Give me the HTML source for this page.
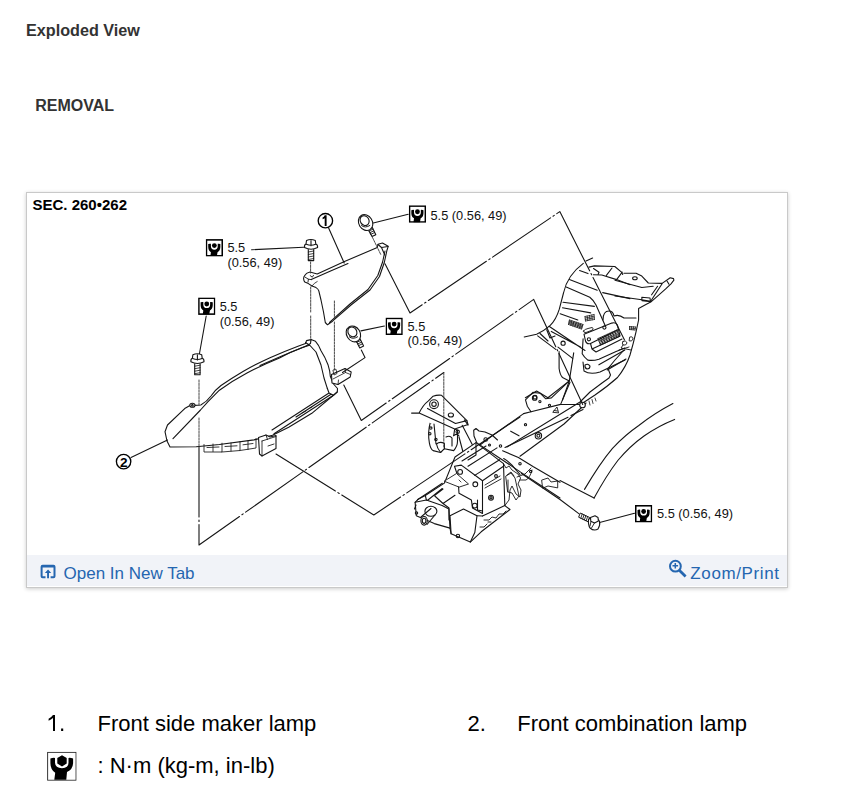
<!DOCTYPE html>
<html><head><meta charset="utf-8"><style>
html,body{margin:0;padding:0;background:#fff;width:865px;height:800px;overflow:hidden;font-family:"Liberation Sans",sans-serif;}
.frame{position:absolute;left:26px;top:192px;width:760px;height:394px;border:1px solid #c9c9c9;background:#fff;box-shadow:0 1px 4px rgba(0,0,0,0.2);}
.bar{position:absolute;left:27px;top:555px;width:760px;height:31px;background:#f1f3f8;}
svg{position:absolute;left:0;top:0;}
</style></head><body>
<div class="frame"></div>
<div class="bar"></div>
<svg width="865" height="800" viewBox="0 0 865 800" font-family="Liberation Sans, sans-serif">
<defs>
<path id="tqfig" d="M3.3,6.6 Q5.6,5.9 7.9,6.1 L7.9,11 Q8.2,16.4 14.9,16.4 Q21.4,16.4 21.4,11 L21.4,6.1 Q23.7,5.9 26,6.6 L26,11.5 Q25.6,17.8 19.9,20.3 L19.2,28 L7.2,28 L8.1,21 Q3.4,18 3.3,11.5 Z M14.9,3.4 L19.6,6.2 L19.6,11.8 L14.9,14.6 L10.2,11.8 L10.2,6.2 Z"/>
<symbol id="tq" viewBox="0 0 29.5 29" preserveAspectRatio="none">
<rect x="1.3" y="1.3" width="26.9" height="26.4" fill="#fff" stroke="#000" stroke-width="2.6"/>
<path d="M4.3,8.2 Q6.5,7.2 8.9,7.7 L8.9,12 Q9.1,17.6 14.75,17.6 Q20.4,17.6 20.5,12 L20.5,7.7 Q22.8,7.2 25,8.2 L25,13 Q24.7,19.4 20.2,21.6 L19,28 L8,28 L8.9,21.6 Q4.5,19.4 4.3,13 Z" fill="#000"/>
<circle cx="14.75" cy="10.8" r="4.1" fill="#000"/>
</symbol>
<symbol id="tqbig" viewBox="0 0 29.5 29">
<rect x="0.5" y="0.5" width="28.5" height="28" fill="#fff" stroke="#222" stroke-width="1"/>
<use href="#tqfig" fill="#000"/>
</symbol>
</defs>
<!-- headings -->
<text x="26" y="35.5" font-size="16.2" font-weight="700" fill="#333">Exploded View</text>
<text x="35.2" y="111" font-size="16" font-weight="700" fill="#333">REMOVAL</text>
<!-- SEC -->
<text x="32.5" y="210" font-size="15" font-weight="700" fill="#000">SEC. 260•262</text>
<!-- torque labels -->
<g font-size="12.8" fill="#111">
<use href="#tq" x="408.8" y="205.3" width="17.3" height="17.5"/>
<text x="430.5" y="220">5.5 (0.56, 49)</text>
<use href="#tq" x="205.7" y="239.1" width="17.3" height="17.5"/>
<text x="227.4" y="251.5">5.5</text>
<text x="227.4" y="267">(0.56, 49)</text>
<use href="#tq" x="198.1" y="297.4" width="17.3" height="17.5"/>
<text x="219.7" y="310.8">5.5</text>
<text x="219.7" y="325.5">(0.56, 49)</text>
<use href="#tq" x="385.5" y="317.6" width="17.3" height="17.5"/>
<text x="407.5" y="330.6">5.5</text>
<text x="407.5" y="345.1">(0.56, 49)</text>
<use href="#tq" x="635" y="505" width="17.3" height="17.5"/>
<text x="657" y="518">5.5 (0.56, 49)</text>
</g>
<!-- DIAGRAM -->
<g id="diag" fill="none" stroke="#151515" stroke-width="1.1" stroke-linejoin="round" stroke-linecap="round">

<!-- part 1 side marker -->
<g id="part1">
<path d="M317.2,274 L310,272 Q306.5,272.8 305.2,274.8 Q303.4,276.8 303.6,278.8 Q303.8,281 304.8,282 L308.4,283.6 L312,286 L316,287.6 Q318.3,289 318.8,290.8 L321,300 L323.5,312 L325.3,322.5 L327.5,324.8 L332.5,321.2 L351,305 L370,290 L379.5,276.5 L384.3,262.5 L386.9,250.5 L388.2,246.3 L382.5,243 L378,244.2 L377.3,247.5 L344.5,261.5 Z" fill="#fff"/>
<path d="M329.5,322.3 L350,304 L368,289.5 L377.8,275.5 L382.6,262 L385,251"/>
<path d="M311.2,279.6 L330,271.3 L348,263.6"/>
<path d="M305.2,277.2 L308.4,279.2 L308,282 M308.4,279.2 L311.2,279.6 M310.2,275.6 L312.3,277.2 L313.5,275.3" stroke-width="0.9"/>
<path d="M312,286 Q314,283 317.2,281.5" stroke-width="0.8"/>
<path d="M378,244.5 L381.5,247.5 L388,246.5 M381.5,247.5 L384.8,255"/>
</g>
<!-- part 2 headlamp -->
<g id="part2">
<path d="M170,447 L167,441 L165,431.7 L167.5,425 L184.7,408.6 L190,405.6 Q192.3,403.3 194.7,405.4 L200.8,405 Q207,401.5 211,396 Q215,390 221,385.5 Q232,378 243,371.5 Q256,364 270,357.7 Q284,351.5 298,346.2 L305.5,343.5 L306.5,340.6 L311,339.6 L315.5,341.3 Q319,345 321,350.8 Q325,357 328,364.7 Q330,371 330.3,376.2 L333.5,384 L337.5,388.5 L337.3,392 L311.8,413.3 L288.7,427.2 L272.5,435.3 L254,439.9 L219.4,444.5 L196.2,446.8 Z" fill="#fff"/>
<path d="M309.5,345.2 L302.6,347.5 Q290,352 279.5,357.9 Q262,365 247,373 Q232,381 219.4,390.2 L207.8,401.9 L200.5,410 L173,438.7"/>
<path d="M260,365.5 L283,355.5 L305.5,346.3"/>
<path d="M305.5,342.5 L310,345.5 L316,352 L321,365 L324,378 L327.3,388.3"/>
<path d="M311,339.4 L310.5,343.5 L306,346"/>
<path d="M333.5,395.3 L274,433.8 M329,393 L272,430 M331,394.2 L296,417 M327.3,388.3 L329,393 L333.5,395.3 L337.2,391.8"/>
<path d="M302,413 L306,411 M310,408 L312,407" stroke-width="0.8"/>
<ellipse cx="192.4" cy="405.3" rx="2.6" ry="2" fill="#fff"/><circle cx="192.4" cy="405.3" r="0.8"/>
<!-- bracket -->
<path d="M331.5,374.5 L345,368.5 L351.2,372 L350.2,377 L338,384.5 L332,383 Z" fill="#fff"/>
<path d="M333,379 L345.5,372.5 L350.5,374.5 M338,384.5 L338.5,380 M345.5,372.5 L345,368.5" stroke-width="0.8"/>
<path d="M333,370.5 L334,375 L337,373.5 L336,369.5 Z" stroke-width="0.8"/>
<!-- vents -->
<path d="M204,444.5 L204,452 L222,452 L222,443.2 M222,452 L240,450.5 L240,441.5 M240,450.5 L256,448 L256,438.5 M207,447.5 L219,447 M225,446.5 L237,445.8 M243,444.8 L253,443.5 M213,444 L213,451.5 M231,443 L231,451 M248,441 L248,449.5" stroke-width="0.85"/>
<!-- connector -->
<path d="M258.5,437.5 L266,435 L270,437 L276,435.5 L276,448.5 L262,456 L259.5,454 Z" fill="#fff"/>
<path d="M262,441 L276,436.5 M262,441 L262,456 M266,435 L267.5,439.5 M268,446 L274,444" stroke-width="0.85"/>
</g>


<!-- BODY upper (apron/core support) -->
<g id="body">
<path d="M592.6,258.1 L586,261.1"/>
<path d="M583.3,263.4 C573,271 566,281 563.5,293 L559.3,309.2 Q556,320 550,325.7 Q544,331 536.6,334.2 L524.2,337"/>
<path d="M588.9,267.1 L594.4,265.9 L614.8,266.5 L621.5,272.1 L622.7,274.5 M623.9,273.3 L636.1,273.3 L641.8,276.1 L648.3,283 L662.1,283.4 L670.2,277.7 L673.5,278.6 L673.9,280.2 L671,283.8 L665.4,289.1 L658.1,295.6 L650.7,302.1 L645.9,304.6 L638.6,308.6 L638.6,320 L635.9,332.4 Q633,345 630,355 Q626,367 617.5,377.5 Q608,386 595,395 L581.3,404"/>
<ellipse cx="634.9" cy="278.2" rx="2.3" ry="1.5"/>
<path d="M593.5,268.5 L599,272.2 L598.1,274.5"/>
<path d="M593.5,274.8 L601.8,275 L616.6,279.6 L630,284.7 M612,268 L606.4,275.4 M622.2,272.2 L616.6,279.6"/>
<path d="M615,280.2 L641.8,287.5 L653.2,286.3 M651.6,294.8 L657.6,286.3 M650.7,301.3 L662.1,283.8 M667,281 L669,284.2"/>
<path d="M615,296 L641.8,299.7 L650.7,301.3 M641.8,297.2 L650,298 L650.5,301.7 L642,300.8 Z"/>
<path d="M579.6,270.5 L588,273.6"/>
<path d="M569.4,279.6 L597.2,290.2 M602.7,292.6 L630,298.6"/>
<path d="M566.2,287 L589.8,297.2 Q593.5,300 596,305 L602.7,320 L608,332"/>
<path d="M563,302.3 L594.4,306.4 M562.5,307.8 L590.7,312.9 M560.2,313.8 L577.8,320"/>
<path d="M603,320 Q603,311 609,311 Q613,311 614,316 Q619,314 624,318 L636,318" />
<!-- bracket plate w/ hatching -->
<path d="M584,334.2 L611.8,323.1 Q616,322 617.4,325 L618.5,329.6 L590.5,343.5 Q586.5,344.5 585.5,341 Z" fill="#fff"/>
<circle cx="604.4" cy="327.6" r="1.6"/>
<circle cx="588.9" cy="339.3" r="1.6"/>
<path d="M590.5,343.5 L592,349 L620,336 L618.5,329.6 M592,349 L596,352 L622,339" />
<path d="M598.0,338.5 L617.0,330.0 M598.5,339.8 L617.5,331.3 M599.0,341.1 L618.0,332.6 M599.5,342.4 L618.5,333.9 M600.0,343.7 L619.0,335.2 M600.5,345.0 L619.5,336.5 M598.0,338.5 L600.5,345.0 M600.4,337.4 L602.9,343.9 M602.8,336.4 L605.2,342.9 M605.1,335.3 L607.6,341.8 M607.5,334.2 L610.0,340.8 M609.9,333.2 L612.4,339.7 M612.2,332.1 L614.8,338.6 M614.6,331.1 L617.1,337.6 M617.0,330.0 L619.5,336.5" stroke-width="0.8"/>
<path d="M569.5,320.0 L583.0,324.5 M569.2,321.1 L582.6,325.6 M569.0,322.2 L582.2,326.8 M568.8,323.4 L581.9,327.9 M568.5,324.5 L581.5,329.0 M569.5,320.0 L568.5,324.5 M571.8,320.8 L570.7,325.2 M574.0,321.5 L572.8,326.0 M576.2,322.2 L575.0,326.8 M578.5,323.0 L577.2,327.5 M580.8,323.8 L579.3,328.2 M583.0,324.5 L581.5,329.0" stroke-width="0.8"/>
<path d="M585.0,316.5 L594.0,314.5 M585.2,318.0 L594.2,316.2 M585.3,319.5 L594.3,317.8 M585.5,321.0 L594.5,319.5 M585.0,316.5 L585.5,321.0 M587.2,316.0 L587.8,320.6 M589.5,315.5 L590.0,320.2 M591.8,315.0 L592.2,319.9 M594.0,314.5 L594.5,319.5" stroke-width="0.75"/>
<path d="M629.5,326.5 L635.5,327.0 M629.5,328.0 L635.2,328.5 M629.5,329.5 L635.0,330.0 M629.5,326.5 L629.5,329.5 M631.5,326.7 L631.3,329.7 M633.5,326.8 L633.2,329.8 M635.5,327.0 L635.0,330.0" stroke-width="0.75"/>
<path d="M583.5,331 Q585,329 588,328.5 L592,327.5 Q594,328 592.5,330 L586,332.5 Q583.5,333 583.5,331 Z" stroke-width="0.9"/>
<path d="M630,337 Q633,336 633,339 Q632,342 629.5,341 Z M623,341.5 Q626,340 627,343 Q626,346 623,345 Q621.5,343 623,341.5 Z" stroke-width="0.9"/>
<path d="M623,345 L621,348 L631,350 M619,350 L629,347" stroke-width="0.9"/>
<!-- lower part of apron -->
<path d="M583.1,338.9 L582.2,353.7 Q584,357 587.8,360.1 Q593,361 598.9,359.2 L615.5,351.8 L624.8,348.1"/>
<path d="M585,365 Q588,363 590,366 Q590,369 587,369 Q584.5,368 585,365 Z"/>
<path d="M583,362 L584,371 Q590,375 600,372 L625,360"/>
<path d="M598.9,364.8 L624.8,350 M607.2,370 L626,359"/>
<!-- strut / lower-left flange -->
<path d="M537.7,335.9 L555.7,349.4 M549,326.3 L585,350.5 M551.3,331.4 L580.5,347.1 M558,347.1 L572.6,358.4"/>
<path d="M546.7,329.7 L550,338 L555,336 M540,333.5 L548,341"/>
<circle cx="563.1" cy="343.2" r="2.1"/>
<path d="M559.1,351.6 L559.1,368.5 Q560,375 562.5,377.5 L569.3,380.9 L573.7,352.8"/>
<path d="M569.3,380.9 L547.9,397.7 M569.3,380.9 L562.5,400"/>
<path d="M525.4,397.7 L536.6,391 L547.9,397.7"/>
<circle cx="535" cy="397.2" r="1.8"/>
<!-- rail -->
<path d="M470,452.5 L492.2,435.8 L523.6,413.6"/>
<path d="M525.5,399.8 L532.9,392.4 L540.3,393.3 L545.8,398.8 L551.4,397.9 L569.3,380.9 M525.5,399.8 L527.3,406.2 L531,411.8 L523.6,413.6"/>
<circle cx="534.7" cy="397.9" r="2.3"/>
<circle cx="539.9" cy="401.6" r="1.1"/>
<circle cx="549.5" cy="405.3" r="1.1"/>
<path d="M531,411.8 L560.6,404.4 L570,382.2 M560.6,404.4 L580,404.5"/>
<path d="M507,447 L580,402 L590,392 L602,383 L609,378 L610.5,375 L608,368.5 L615,360 L624,350"/>
<path d="M505,447.5 L568,417.3 M571,415.5 L583,409.5"/>
<path d="M520,456.2 L564,424 L580,409 L586,403"/>
<circle cx="582.5" cy="405" r="2.8" fill="#fff"/>
<path d="M589,401 L590,405 M592,399.5 L593,403.5 M595,398 L596,401" stroke-width="0.8"/>
<circle cx="538.4" cy="435.8" r="3.2"/>
<circle cx="538.4" cy="435.8" r="1.5"/>
<circle cx="525.5" cy="424.7" r="1.1"/>
<circle cx="500.5" cy="446" r="1.2"/>
<path d="M510.7,431.2 L519,435.8"/>
<path d="M553,412 L557,407 L558.5,412.5 Z M554,410.5 L557.5,411" stroke-width="0.9"/>
<!-- cross member -->
<path d="M476.8,442.9 L520.6,472.1 L560,498"/>
<path d="M502.6,450.8 L518.4,457.5 L533,466.5 L560,482.3"/>
<path d="M503.7,458.6 Q510,462 516,470 L520,474.4"/>
<circle cx="520" cy="463.7" r="1.2"/>
<circle cx="530.7" cy="471.6" r="1.2"/>
<path d="M542,480 L548,478 L551,482 L557.7,481 L557.7,487.9 L548,486 L543,488 Z" stroke-width="0.9"/>
<path d="M517,477 L525,474 L531,468 M520,480 L526,480 Q530,478 532,470" stroke-width="0.9"/>
<path d="M506,476 L511,473 L515,478 L519,496 L516,500 L512,493 L508,492 Z" stroke-width="0.9"/>
<!-- lower-left bracket on rail -->
<path d="M473.7,430.3 L476,428.5 L479,431 L485,432 L492,435 L497.5,440 M473.7,430.3 L474,436 L476.8,442.9"/>
<circle cx="485.7" cy="439.5" r="1.8"/>
<circle cx="489.5" cy="445" r="1"/>
</g>
<!-- engine mount bracket -->
<g id="mount">
<path d="M430.3,422.5 Q427.5,432 429.4,443.1 Q430.5,449 433.1,450.6 L440.6,452.5 L444.4,448.7 L453.7,450.6 Q457.5,446 457.5,441.2 L457.5,430 Z" fill="#fff"/>
<path d="M411.6,413.1 L419.1,413.1 Q423,405 428.4,400.9 L433.1,396.2 Q437,394.8 441.6,395.3 L466.9,420.6 L468,424.5 L454.7,429 L453.7,435.6 M419.1,413.1 L454.7,429" fill="#fff"/>
<path d="M427.5,408.4 L455.5,423.5 L466.9,420.6"/>
<circle cx="434" cy="404.2" r="4.4"/>
<circle cx="434" cy="404.2" r="2.2"/>
<ellipse cx="450.9" cy="415" rx="2.6" ry="2"/>
<circle cx="430.8" cy="428.1" r="1.2"/>
<circle cx="429.8" cy="433.7" r="1.2"/>
<circle cx="435.9" cy="439.4" r="1.2"/>
<path d="M434,424 L436,444 M440.6,452.5 Q437,448 436.5,444 Q440,441 444.4,443.5 L444.4,448.7"/>
<path d="M446,437 Q450,435 452,438 L452,446 M453.7,435.6 Q457,433 459,436"/>
<circle cx="457.7" cy="431.8" r="1.7"/>
<path d="M462.2,425.3 L472.5,445 M459,437 L463,452"/>
<path d="M464.5,420 L468,425" stroke-width="1.3"/>
</g>
<!-- transmission block -->
<g id="trans">
<path d="M415.1,502.3 L418.5,498.9 L425.3,495.5 L444.4,483.1 L455,457 L476,442.6 L503.5,463.6 L504.8,505.6 L510,509.5 L481.2,531.8 L470.3,542.1 L451.1,533.8 L450,528.1 L434.3,523.6 L416.3,515.8 Z" fill="#fff"/>
<path d="M415.1,502.3 L426.4,500 L442.1,505.6 L448.9,509 L450,528.1"/>
<path d="M425.3,495.5 L426.4,500"/>
<path d="M427.3,500.5 L442.3,488.5 M434.8,495.3 L443,489 M434.8,496 L443,503.5 L449,508 L449,520 M443,503.5 L455,495.3 M417.5,499.8 L442.3,483.3"/>
<path d="M454.5,466.3 L457.9,476.4 L459,493.3 L471.4,500 L472.5,507.9 L482.5,513.5 L482.5,480.7 L478.1,477.5 L461.3,465.1 L454.5,466.3"/>
<path d="M482.5,480.7 L503.5,466.2 M482.5,516 L504.8,505.6"/>
<path d="M468,466.2 L497,447.9 M474.7,475.4 L499.6,459.7 M462,461 L486,446 M476,442.6 L476,455 L468,460"/>
<path d="M444.5,481 L456.5,473.5 L468.5,484 L459.5,487 Z" stroke-width="0.9" fill="#fff"/>
<path d="M459,480 L461,482" stroke-width="0.8"/>
<circle cx="460.1" cy="471.9" r="2.4"/>
<circle cx="475.3" cy="484.3" r="2.4"/>
<circle cx="474.8" cy="505.6" r="2.4"/>
<path d="M477.5,500 L477.5,510 L482.5,511"/>
<path d="M450,515.8 L463.5,509 L477,515.8 L474.8,532.6 L470.3,542.1 M451.1,533.8 L450,515.8"/>
<path d="M477,515.8 L482.5,516"/>
<circle cx="457.9" cy="536" r="1.7"/>
<circle cx="491" cy="497.7" r="2.4"/>
<circle cx="491" cy="497.7" r="1.1"/>
<circle cx="496" cy="476" r="1.4"/>
<path d="M485,485 L500,476 M485,488 L501,479" stroke-width="0.9"/>
<path d="M484,520 L489,520 L492,517 L496,518 L499,514 L503,514 L506,511" stroke-width="0.9"/>
<path d="M480,527 L484,527 L487,524 M488,522 L491,522" stroke-width="0.9"/>
<ellipse cx="430.9" cy="511.3" rx="6" ry="5"/>
<path d="M421,517 L431,508.5 M427,524.5 L435,515"/>
<ellipse cx="424.1" cy="520.8" rx="3.2" ry="4.3" fill="#fff"/>
<ellipse cx="424.1" cy="520.8" rx="1.8" ry="2.6"/>
<circle cx="416.5" cy="513" r="1.2"/>
<path d="M416,505 L414.5,509"/>
<!-- wavy bracket right of box -->
<path d="M503.5,463.6 L506,468 L509,466 L512,470 L518,474 L520.6,478 L518,484 L521,490 L520,497 L516,494 L512,486 L510,490 L509,500 L504.8,505.6" stroke-width="0.9"/>
<path d="M507,475 L511,472 L514,476 M508,480 L508,492" stroke-width="0.9"/>
</g>

<!-- callout circles -->
<g stroke-width="1.35" stroke="#000">
<circle cx="325.4" cy="220.7" r="7.2"/>
<circle cx="123.6" cy="461.6" r="7.2"/>
</g>
<path d="M324.7,215.3 L326.6,215.3 L326.6,226 L324.7,226 L324.7,218.3 Q323.8,219 322.6,219.3 L322.6,217.6 Q324,217 324.7,215.3 Z" fill="#000" stroke="none"/>
<text x="123.75" y="466.9" font-size="13.6" font-weight="700" text-anchor="middle" fill="#000" stroke="none">2</text>
<!-- leaders solid -->
<path d="M328.4,227.5 L344.2,263"/>
<path d="M131,457.6 L167.5,440"/>
<path d="M251.6,249.7 L303.7,247.2"/>
<path d="M373.3,223 L408.2,214.3"/>
<path d="M206.2,316 L199.3,354.5"/>
<path d="M360.9,330.9 L384.4,326"/>
<path d="M599.6,522.5 L634.5,513.3"/>
<!-- dash-dot lines -->
<g stroke-dasharray="70,3,1.5,3">

<path d="M385,263.7 L410,313 L559.8,211.6 L625,341"/>
<path d="M361.3,350 L365,357.6 L342.5,372.5"/>
<path d="M343.8,385 L361.3,420.5 L533.7,299.4 L582.7,404.5"/>
<path d="M199,447 L199,545 L443.8,372.5"/>
<path d="M276,454 L373.8,515 L520,417"/>
<path d="M578.8,513.6 L560,499.5 L520,472.5"/>
</g>
<g stroke-dasharray="2.2,1.1" stroke="#333" stroke-width="0.9">
<path d="M310.6,262 L310.6,273"/>
<path d="M310.7,287 L310.7,312 M310.7,316 L310.7,341"/>
<path d="M334.4,301 L334.4,318 M334.4,322 L334.4,370"/>
<path d="M372.5,237.5 L381,255"/>
<path d="M199,380 L199,405 M199,418 L199,447"/>
<path d="M443.8,372.5 L443.8,447"/>
</g>
<!-- bolts -->
<g id="bolt1">
<path d="M304.5,247.5 Q304.2,244.5 306,244 L306.5,240.5 Q310.8,238.5 315.3,240.5 L315.8,244 Q317.8,244.5 317.6,247.5 Q311,251 304.5,247.5 Z" fill="#fff"/>
<path d="M306.3,244.2 Q311,246.4 315.6,244.2 M311,240.5 L311,245.8"/>
<path d="M308.3,249.5 L308.3,260.6 L313.7,260.6 L313.7,249.5"/>
<path d="M308.3,252 L313.7,251 M308.3,254.5 L313.7,253.5 M308.3,257 L313.7,256 M308.3,259.5 L313.7,258.5" stroke-width="0.8"/>
</g>
<use href="#bolt1" x="-113.6" y="114.2"/>
<g id="bolt2">
<path d="M368.3,229.5 L372,236.6 L375.8,234.7 L372.3,227.6 Z" fill="#fff"/>
<path d="M369,231 L372.9,229.2 M369.8,232.7 L373.7,230.9 M370.6,234.4 L374.5,232.6" stroke-width="0.9"/>
<ellipse cx="365.6" cy="222.6" rx="6.8" ry="8.3" transform="rotate(-32 365.6 222.6)" fill="#fff" stroke-width="1.1"/>
<ellipse cx="364.6" cy="220.6" rx="4.3" ry="5.1" transform="rotate(-32 364.6 220.6)" stroke-width="1.1"/>
<path d="M361.5,225.5 Q365,228.6 369.8,225.5" stroke-width="1"/>
</g>
<use href="#bolt2" x="-12.2" y="111.3"/>
<!-- bolt bottom right -->
<g>
<path d="M580.6,513.2 L589.8,517.6 L588.2,521.8 L579,517.4 Z" fill="#fff" stroke-width="1"/>
<path d="M582.2,514 L580.8,518.2 M584,514.9 L582.6,519.1 M585.8,515.7 L584.4,519.9 M587.6,516.6 L586.2,520.8" stroke-width="0.9"/>
<path d="M588.5,519 Q588,525 590,528 Q594,531.5 598,529 Q600.5,525 599.5,521.5 Q598.5,518.5 595.5,518 Z" fill="#fff" stroke-width="1.1"/>
<path d="M590.5,517.5 L595,515.8 L598,517.5 L598.4,521 L594.5,523 L590.8,521.2 Z" fill="#fff" stroke-width="1.1"/>
<path d="M594.5,523 L591.5,528 M591,521.5 L590,526" stroke-width="0.9"/>
</g>
<!-- fender arcs -->
<path d="M584.5,489.4 Q600,463 612.5,448.3 Q625,435 638.8,425.5 Q655,413 672.9,403.6"/>
<path d="M594.1,498.1 Q606,476 617.8,460.5 Q630,446 644,436 Q658,426 674.6,419.4"/>
<path d="M594.1,498.1 L560,480.6"/>
</g>
<!-- bar links -->
<g fill="#2566b0">
<path d="M42.6,564.8 h10.9 a2,2 0 0 1 2,2 v9.4 a2,2 0 0 1 -2,2 h-2.9 v-2 h2.9 v-8.7 h-10.9 v8.7 h2.9 v2 h-2.9 a2,2 0 0 1 -2,-2 v-9.4 a2,2 0 0 1 2,-2 z"/>
<path d="M48.05,569.6 l-3.2,3.3 h2.25 v5.3 h1.9 v-5.3 h2.25 z"/>
<text x="63.5" y="578.7" font-size="17">Open In New Tab</text>
<text x="690.3" y="578.7" font-size="17" letter-spacing="0.62">Zoom/Print</text>
</g>
<g stroke="#2566b0" fill="none" stroke-width="1.8">
<circle cx="675.4" cy="566.2" r="5.4" stroke-width="2"/>
<path d="M679.3,570.3 L685.6,576.4" stroke-width="2.8"/>
<path d="M672.5,565.8 h5.6 M675.3,563 v5.6" stroke-width="1.5"/>
</g>
<!-- legend -->
<g font-size="22" fill="#000">
<path d="M53,715.1 L55,715.1 L55,730.9 L53,730.9 L53,718 Q51,719.8 48.6,720.8 L48.6,718.7 Q51.6,717.2 53,715.1 Z M61.1,728.6 L63.2,728.6 L63.2,730.9 L61.1,730.9 Z"/>
<text x="97.5" y="730.7">Front side maker lamp</text>
<text x="467.5" y="730.7">2.</text>
<text x="517.2" y="730.7">Front combination lamp</text>
<text x="97.5" y="772.5">: N·m (kg-m, in-lb)</text>
</g>
<g>
<use href="#tqbig" x="47.1" y="751.8" width="29.5" height="29"/>
</g>
</svg>
</body></html>
